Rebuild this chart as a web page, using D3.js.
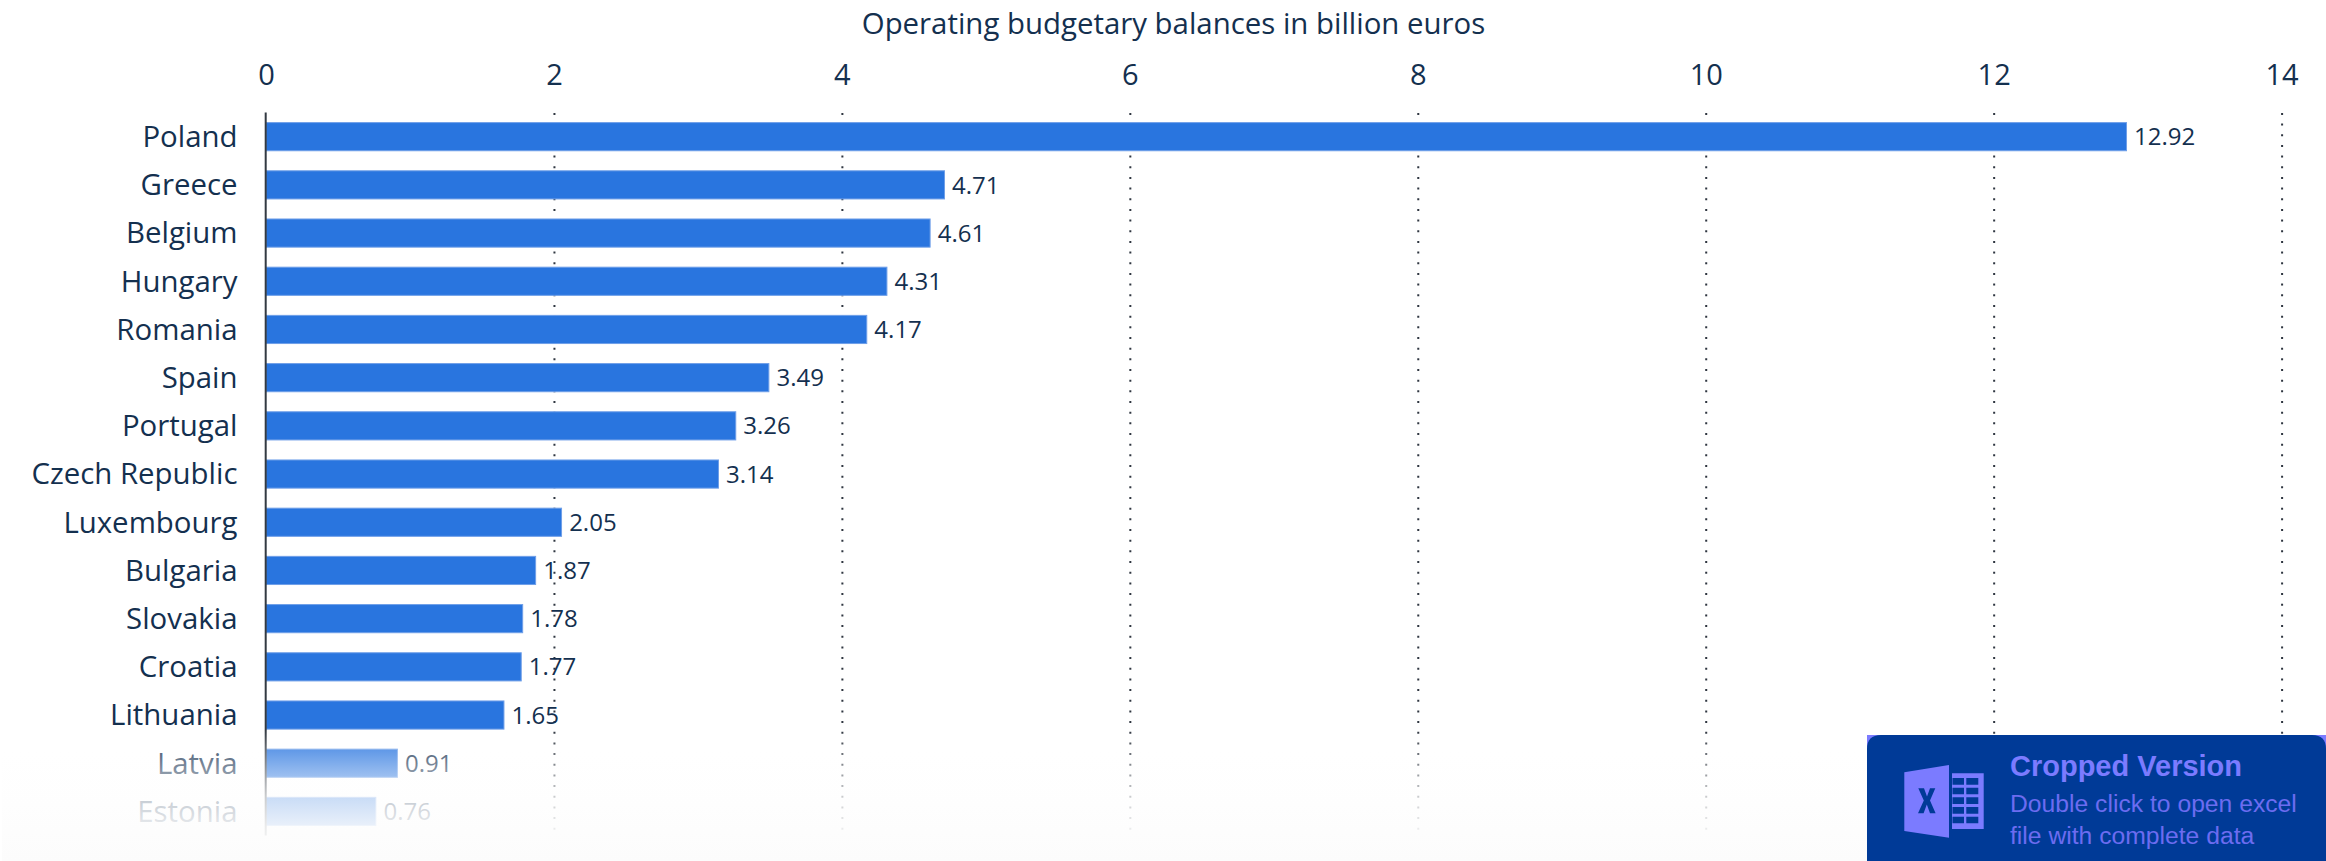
<!DOCTYPE html>
<html><head><meta charset="utf-8">
<script src="https://cdn.jsdelivr.net/npm/d3@7"></script>
<style>
html,body{margin:0;padding:0;background:#fff;overflow:hidden}
svg{display:block}
text{font-family:"Open Sans",sans-serif}
</style></head><body>
<svg id="c" width="2326" height="861"></svg>
<script>
const countries=["Poland","Greece","Belgium","Hungary","Romania","Spain","Portugal","Czech Republic","Luxembourg","Bulgaria","Slovakia","Croatia","Lithuania","Latvia","Estonia"];
const balances=[12.92,4.71,4.61,4.31,4.17,3.49,3.26,3.14,2.05,1.87,1.78,1.77,1.65,0.91,0.76];
const xTicks=[0,2,4,6,8,10,12,14];
const axisTitle="Operating budgetary balances in billion euros";
const badgeTitle="Cropped Version";
const badgeLines=["Double click to open excel","file with complete data"];

const svg=d3.select("#c");
const ink="#14304f";
const x=d3.scaleLinear().domain([0,14]).range([266,2281.6]);
const y=d3.scaleBand().domain(countries).range([112.6,835.5]).paddingInner(0.395).paddingOuter(0.197);
const rows=countries.map((c,i)=>({c,v:balances[i]}));

const defs=svg.append("defs");
const fade=defs.append("linearGradient").attr("id","fade").attr("x1",0).attr("x2",0).attr("y1",0).attr("y2",1);
[[0,"#ffffff",0],[0.145,"#ffffff",0.25],[0.359,"#fefefe",0.55],[0.511,"#fefefe",0.75],[0.725,"#fdfdfd",0.9],[1,"#fcfcfc",1]].forEach(s=>
  fade.append("stop").attr("offset",s[0]).attr("stop-color",s[1]).attr("stop-opacity",s[2]));

const grid=svg.append("g").attr("transform","translate(0,112.9)")
  .call(d3.axisBottom(x).tickValues(xTicks.slice(1)).tickSize(722).tickFormat(""));
grid.select(".domain").remove();
grid.selectAll("line").attr("stroke","#2f3640").attr("stroke-width",2).attr("stroke-dasharray","2 8.67");

svg.append("g").selectAll("rect").data(rows).join("rect")
  .attr("x",x(0)).attr("y",d=>y(d.c)+0.5).attr("width",d=>x(d.v)-x(0)+0.4).attr("height",y.bandwidth()-1)
  .attr("fill","#2975df").attr("stroke","#6f9fe8").attr("stroke-width",1);

svg.append("line").attr("x1",265.7).attr("x2",265.7).attr("y1",112.6).attr("y2",835.5)
  .attr("stroke","#333a42").attr("stroke-width",2);

const topAxis=svg.append("g").attr("transform","translate(0,85)")
  .call(d3.axisTop(x).tickValues(xTicks).tickSize(0).tickPadding(0));
topAxis.select(".domain").remove();
topAxis.selectAll("text").attr("dy",0).attr("font-size",29).attr("fill",ink).style("font-family",'"Open Sans",sans-serif');

svg.append("g").selectAll("text").data(rows).join("text")
  .attr("x",237.5).attr("y",d=>y(d.c)+y.bandwidth()/2).attr("dy","0.35em")
  .attr("text-anchor","end").attr("font-size",29.4).attr("fill",ink).text(d=>d.c);

svg.append("g").selectAll("text").data(rows).join("text")
  .attr("x",d=>x(d.v)+8).attr("y",d=>y(d.c)+y.bandwidth()/2).attr("dy","0.36em")
  .attr("font-size",24).attr("fill",ink).text(d=>d.v.toFixed(2));

svg.append("text").attr("x",1173.5).attr("y",33.5).attr("text-anchor","middle")
  .attr("font-size",29.4).attr("fill",ink).text(axisTitle);

svg.append("rect").attr("x",2).attr("y",730).attr("width",2324).attr("height",131).attr("fill","url(#fade)");

const b=svg.append("g").attr("transform","translate(1867,735)");
b.append("rect").attr("width",459).attr("height",126).attr("fill","#7b7bff");
b.append("path").attr("d","M0,14 Q0,0 14,0 H445 Q459,0 459,14 V126 H0 Z").attr("fill","#003a97");
const ic=b.append("g").attr("fill","#7b7bff");
ic.append("path").attr("d","M37.3,37.3 L82,30 L82,102.7 L37.3,96 Z");
ic.append("path").attr("fill-rule","evenodd").attr("d","M85,38.3 H116.7 V94 H85 Z M85.5,43 V49.7 H97 V43 Z M99.3,43 V49.7 H111.3 V43 Z M85.5,52.7 V59.3 H97 V52.7 Z M99.3,52.7 V59.3 H111.3 V52.7 Z M85.5,62.3 V69 H97 V62.3 Z M99.3,62.3 V69 H111.3 V62.3 Z M85.5,72 V78.7 H97 V72 Z M99.3,72 V78.7 H111.3 V72 Z M85.5,81.7 V88.3 H97 V81.7 Z M99.3,81.7 V88.3 H111.3 V81.7 Z");
b.append("path").attr("d","M51.3,53.3 H57 L60,61.5 L63,53.3 H68.3 L63,65.5 L68.6,78.3 H63 L59.8,69.5 L56.6,78.3 H51 L56.8,65.5 Z").attr("fill","#003a97");
b.append("text").attr("x",143).attr("y",41).attr("font-size",29).attr("font-weight",700).attr("fill","#7b7bff")
  .style("font-family",'"Liberation Sans",sans-serif').text(badgeTitle);
b.selectAll("text.sub").data(badgeLines).join("text").attr("class","sub").attr("x",143).attr("y",(d,i)=>77+i*32)
  .attr("font-size",24.7).attr("fill","#6c6cf0").style("font-family",'"Liberation Sans",sans-serif').text(d=>d);
</script>
</body></html>
